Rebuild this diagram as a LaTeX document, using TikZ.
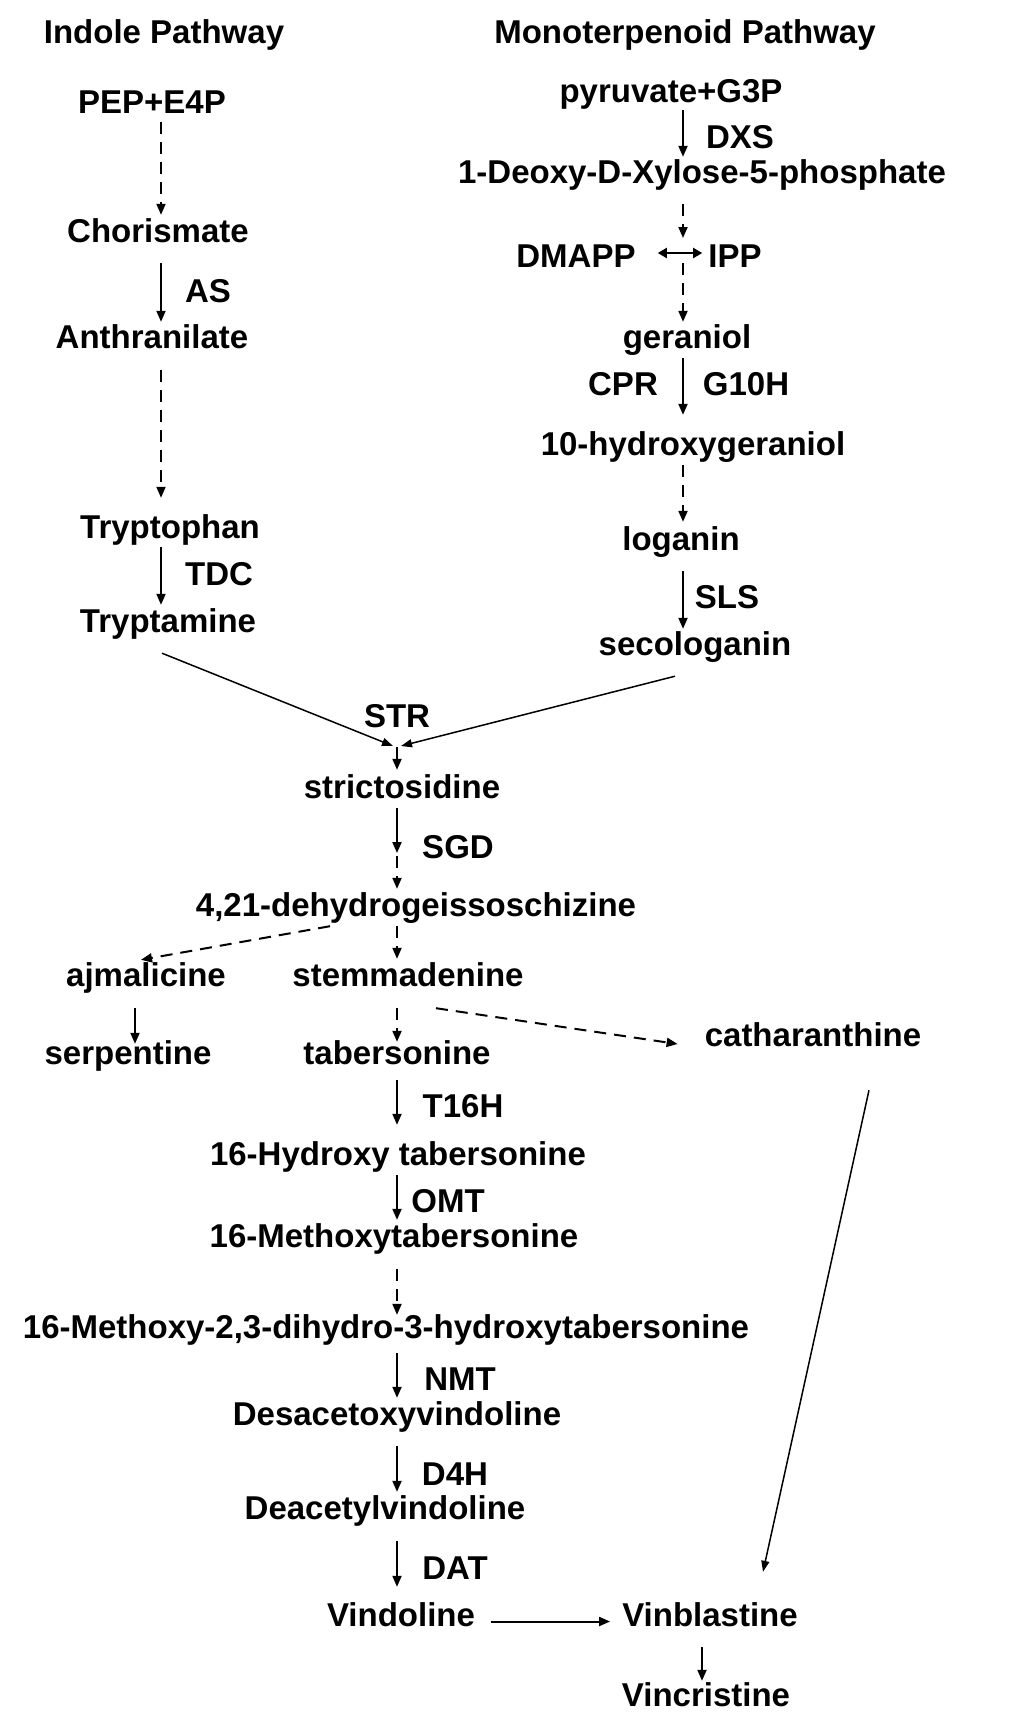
\documentclass[tikz,border=0pt]{standalone}
\usepackage{fontspec}
\setmainfont{Liberation Sans}
\usetikzlibrary{arrows.meta,calc}
\begin{document}
\begin{tikzpicture}[x=1pt,y=-1pt,
 lbl/.style={font=\fontsize{33}{40}\selectfont\bfseries, inner sep=0pt, text height=24pt, text depth=7pt, anchor=base},
 arr/.style={line width=2pt, -{Triangle[length=11pt,width=9pt]}},
 darr/.style={arr, dash pattern=on 12pt off 8pt},
 thinarr/.style={line width=1.5pt, -{Triangle[length=11pt,width=8pt]}},
 dbl/.style={line width=2pt, {Triangle[length=9pt,width=10pt]}-{Triangle[length=9pt,width=10pt]}}
]
\useasboundingbox[fill=white] (0,0) rectangle (1023,1725);
\coordinate (ci) at (161,0);
\coordinate (cm) at (683,0);
\coordinate (cc) at (397,0);
\coordinate (iso) at (683,253);
\coordinate (join) at (397,746);
\coordinate (mid) at (397,855);

% titles
\node[lbl] (t1) at (164,43) {Indole Pathway};
\node[lbl] (t2) at (685,43) {Monoterpenoid Pathway};

% indole pathway
\node[lbl] (pep) at (152,113) {PEP+E4P};
\node[lbl] (chor) at (158,242) {Chorismate};
\node[lbl] (as) at (208,302) {AS};
\node[lbl] (anth) at (152,348) {Anthranilate};
\node[lbl] (trp) at (170,538) {Tryptophan};
\node[lbl] (tdc) at (219,585) {TDC};
\node[lbl] (tra) at (168,632) {Tryptamine};

% monoterpenoid pathway
\node[lbl] (pyr) at (671,102) {pyruvate+G3P};
\node[lbl] (dxs) at (740,148) {DXS};
\node[lbl] (dxp) at (702,183) {1-Deoxy-D-Xylose-5-phosphate};
\node[lbl] (dmapp) at (576,267) {DMAPP};
\node[lbl] (ipp) at (735,267) {IPP};
\node[lbl] (ger) at (687,348) {geraniol};
\node[lbl] (cpr) at (623,395) {CPR};
\node[lbl] (g10h) at (746,395) {G10H};
\node[lbl] (hger) at (693,455) {10-hydroxygeraniol};
\node[lbl] (log) at (681,550) {loganin};
\node[lbl] (sls) at (727,608) {SLS};
\node[lbl] (sec) at (695,655) {secologanin};

% central
\node[lbl] (str) at (397,727) {STR};
\node[lbl] (stri) at (402,798) {strictosidine};
\node[lbl] (sgd) at (458,858) {SGD};
\node[lbl] (dhg) at (416,916) {4,21-dehydrogeissoschizine};
\node[lbl] (ajm) at (146,986) {ajmalicine};
\node[lbl] (stem) at (408,986) {stemmadenine};
\node[lbl] (cath) at (813,1046) {catharanthine};
\node[lbl] (serp) at (128,1064) {serpentine};
\node[lbl] (tab) at (397,1064) {tabersonine};
\node[lbl] (t16h) at (463,1117) {T16H};
\node[lbl] (hta) at (398,1165) {16-Hydroxy tabersonine};
\node[lbl] (omt) at (448,1212) {OMT};
\node[lbl] (mta) at (394,1247) {16-Methoxytabersonine};
\node[lbl] (mdh) at (386,1338) {16-Methoxy-2,3-dihydro-3-hydroxytabersonine};
\node[lbl] (nmt) at (460,1390) {NMT};
\node[lbl] (dav) at (397,1425) {Desacetoxyvindoline};
\node[lbl] (d4h) at (455,1485) {D4H};
\node[lbl] (dv) at (385,1519) {Deacetylvindoline};
\node[lbl] (dat) at (455,1579) {DAT};
\node[lbl] (vdl) at (401,1626) {Vindoline};
\node[lbl] (vbl) at (710,1626) {Vinblastine};
\node[lbl] (vcr) at (706,1706) {Vincristine};

% indole arrows
\draw[darr, shorten <=2pt, shorten >=3pt] (pep.south -| ci) -- (chor.north -| ci);
\draw[arr, shorten <=14pt, shorten >=2pt] (chor.south -| ci) -- (anth.north -| ci);
\draw[darr, shorten <=15pt, shorten >=16pt] (anth.south -| ci) -- (trp.north -| ci);
\draw[arr, shorten <=2pt, shorten >=3pt] (trp.south -| ci) -- (tra.north -| ci);

% monoterpenoid arrows
\draw[arr, shorten <=1pt, shorten >=2pt] (pyr.south -| cm) -- (dxp.north -| cm);
\draw[darr, shorten <=14pt, shorten >=15pt] (dxp.south -| cm) -- (iso);
\draw[dbl, shorten <=22pt, shorten >=6pt] (dmapp.east |- iso) -- (ipp.west |- iso);
\draw[darr, shorten <=10pt, shorten >=2pt] (iso) -- (ger.north -| cm);
\draw[arr, shorten <=3pt, shorten >=16pt] (ger.south -| cm) -- (hger.north -| cm);
\draw[darr, shorten <=3pt, shorten >=4pt] (hger.south -| cm) -- (log.north -| cm);
\draw[arr, shorten <=14pt, shorten >=2pt] (log.south -| cm) -- (sec.north -| cm);

% convergence
\draw[thinarr] ($(tra.south)+(-6,14)$) -- ($(join)+(-4,0)$);
\draw[thinarr] ($(sec.south)+(-20,14)$) -- ($(join)+(4,0)$);
\draw[arr, shorten <=1pt, shorten >=4pt] (join) -- (stri.north -| cc);

% central arrows
\draw[arr, shorten <=3pt, shorten >=2pt] (stri.south -| cc) -- (mid);
\draw[darr, shorten <=1pt, shorten >=3pt] (mid) -- (dhg.north -| cc);
\draw[darr] ($(dhg.south)+(-86,3)$) -- ($(ajm.north)+(-5,-2)$);
\draw[darr, shorten <=3pt, shorten >=3pt] (dhg.south -| cc) -- (stem.north -| cc);
\draw[arr, shorten <=15pt, shorten >=-4pt] (ajm.south -| 135,0) -- (serp.north -| 135,0);
\draw[darr, shorten <=15pt, shorten >=-2pt] (stem.south -| cc) -- (tab.north -| cc);
\draw[darr] ($(stem.south)+(28,15)$) -- ($(cath.west)+(-27,6.5)$);
\draw[arr, shorten <=9pt, shorten >=16pt] (tab.south -| cc) -- (hta.north -| cc);
\draw[arr, shorten <=3pt, shorten >=3pt] (hta.south -| cc) -- (mta.north -| cc);
\draw[darr, shorten <=15pt, shorten >=-1pt] (mta.south -| cc) -- (mdh.north -| cc);
\draw[arr, shorten <=8pt, shorten >=3pt] (mdh.south -| cc) -- (dav.north -| cc);
\draw[arr, shorten <=14pt, shorten >=3pt] (dav.south -| cc) -- (dv.north -| cc);
\draw[arr, shorten <=15pt, shorten >=15pt] (dv.south -| cc) -- (vdl.north -| cc);
\draw[arr] ($(vdl.east)+(16,4)$) -- ($(vbl.west)+(-12,4)$);
\draw[thinarr] ($(cath.south)+(56,37)$) -- ($(vbl.north)+(53,-30)$);
\draw[arr, shorten <=14pt, shorten >=1pt] (vbl.south -| 702,0) -- (vcr.north -| 702,0);
\end{tikzpicture}
\end{document}
